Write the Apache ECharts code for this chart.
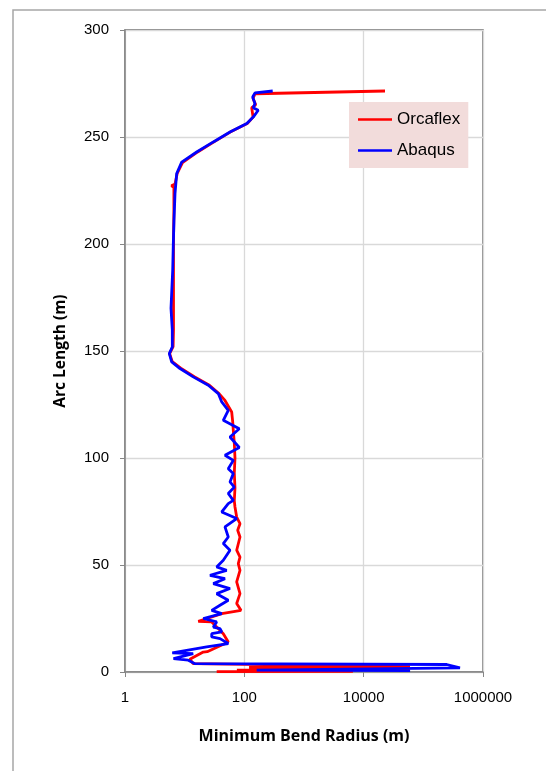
<!DOCTYPE html>
<html>
<head>
<meta charset="utf-8">
<script src="https://cdn.jsdelivr.net/npm/echarts@6/dist/echarts.min.js"></script>
<style>
html,body{margin:0;padding:0;background:#fff;}
#chart{width:546px;height:771px;}
</style>
</head>
<body>
<div id="chart"></div>
<script>
// Series names
const seriesNames = ['Orcaflex', 'Abaqus'];

// Arc length (m) and minimum bend radius (m)
const orcaflexArc = [0.2, 0.3, 0.9, 1.4, 2.2, 2.5, 3.9, 6.0, 9.3, 9.5, 14, 17.9, 19.5, 21, 23.4, 23.7, 25.7, 27.3, 28.8, 32, 36.6, 42.1, 47.5, 50.6, 53.7, 56.9, 63.1, 66.2, 69.3, 72.4, 77.1, 80, 86, 93, 100, 107, 113, 117, 121.5, 126.9, 130, 134, 138, 142, 145, 148.8, 152, 160, 180, 200, 215, 226.5, 227.2, 228, 233, 238, 243, 247.7, 252.3, 256.3, 259.3, 263.7, 265, 268, 270.2, 271.5];
const orcaflexRadius = [34.4, 6600, 75, 59700, 120, 59700, 13.9, 12.2, 20.5, 23.9, 53.8, 44.4, 39.1, 34.4, 28.4, 16.9, 28.4, 41.8, 87.9, 74.4, 84.6, 74.4, 84.6, 79.2, 84.6, 74.4, 84.6, 77.4, 84.6, 74.4, 69.7, 67.9, 69.7, 67.9, 69.7, 67.9, 65.3, 63.8, 61.4, 47.4, 38, 26, 14.5, 8.6, 6.2, 5.6, 6.4, 6.5, 6.5, 6.5, 6.6, 6.6, 6.0, 6.9, 7.5, 9.2, 16.5, 31, 58, 112, 140, 133, 155, 140, 151, 22800];

const abaqusArc = [0.7, 0.9, 1.9, 3.5, 3.9, 5.5, 6.3, 8.6, 8.9, 10.9, 11.7, 13.3, 15.6, 16.4, 17.9, 18.7, 20.3, 21, 23.4, 25, 27.3, 28.8, 31.2, 33.5, 36.6, 39, 41.3, 43.6, 45.2, 47.5, 49.1, 52.2, 53, 56.9, 60, 63.1, 67.8, 71.7, 74.8, 78.7, 80.2, 83.4, 86.4, 88.8, 92.7, 95, 98.9, 101.3, 104.9, 109.8, 113.7, 117.6, 122.3, 126.2, 130.1, 134, 137.9, 141.8, 144.9, 148.8, 151.9, 160, 170, 187.7, 200, 211, 223.5, 232.9, 238.3, 243, 247.7, 252.3, 256.3, 259.3, 262.5, 263.7, 265.6, 268.7, 270.6, 271.5];
const abaqusRadius = [60000, 161, 411000, 246000, 14.9, 11.5, 6.5, 13.9, 6.2, 15.9, 23.4, 53.8, 39.1, 28.4, 28.4, 41.8, 39.1, 30.2, 34.4, 20.5, 41.8, 28.4, 39.1, 53.8, 34.4, 57.5, 30.2, 47.4, 26.6, 50.6, 34.4, 44.4, 47.4, 57.5, 44.4, 53.8, 47.4, 74.4, 41.8, 53.8, 65.3, 53.8, 67.9, 57.5, 65.3, 53.8, 65.3, 47.4, 82.3, 57.5, 82.3, 44.4, 53.8, 41.8, 36.6, 24.9, 13.9, 8.35, 6.06, 5.53, 6.21, 6.2, 5.9, 6.3, 6.45, 6.62, 6.89, 7.35, 8.92, 15.9, 30.2, 57.5, 110, 141, 171, 141, 151, 138, 151, 299];

const yTicks = [0, 50, 100, 150, 200, 250, 300];
const xTickLabels = ['1', '100', '10000', '1000000'];

function pairs(r, a) { return r.map((v, i) => [v, a[i]]); }

const chart = echarts.init(document.getElementById('chart'), null, {renderer: 'canvas'});
chart.setOption({
  animation: false,
  backgroundColor: '#ffffff',
  graphic: [{
    type: 'rect', z: -10,
    shape: {x: 13, y: 10, width: 600, height: 800},
    style: {fill: 'none', stroke: '#a6a6a6', lineWidth: 1.5}
  }],
  grid: {
    left: 125, right: 63, top: 30, bottom: 99,
    show: true, borderColor: '#595959', borderWidth: 1.3, backgroundColor: 'transparent'
  },
  legend: {
    left: 349, top: 102, orient: 'vertical',
    backgroundColor: '#f2dcdb',
    padding: [9, 8, 9, 9],
    icon: 'rect',
    itemWidth: 34, itemHeight: 2.5, itemGap: 14,
    textStyle: {fontFamily: 'Liberation Sans', fontSize: 17, lineHeight: 17, color: '#000'},
    data: seriesNames
  },
  xAxis: {
    type: 'log', logBase: 10, min: 1, max: 1000000, interval: 2, splitNumber: 3,
    name: 'Minimum Bend Radius (m)', nameLocation: 'middle', nameGap: 56,
    nameTextStyle: {fontFamily: 'Open Sans', fontWeight: 'bold', fontSize: 16, color: '#000'},
    axisLine: {show: true, lineStyle: {color: '#868686', width: 1.5}},
    axisTick: {show: true, length: 5, lineStyle: {color: '#868686'}},
    axisLabel: {
      fontFamily: 'Liberation Sans', fontSize: 15, color: '#000', margin: 18,
      formatter: function (v) {
        const s = String(Math.round(v));
        return xTickLabels.indexOf(s) >= 0 ? s : '';
      }
    },
    splitLine: {show: true, lineStyle: {color: '#d9d9d9', width: 1.3}},
    minorTick: {show: false}
  },
  yAxis: {
    type: 'value', min: yTicks[0], max: yTicks[yTicks.length - 1], interval: 50,
    name: 'Arc Length (m)', nameLocation: 'middle', nameGap: 56,
    nameTextStyle: {fontFamily: 'Open Sans', fontWeight: 'bold', fontSize: 15.5, color: '#000'},
    axisLine: {show: true, lineStyle: {color: '#868686', width: 1.5}},
    axisTick: {show: true, length: 5, lineStyle: {color: '#868686'}},
    axisLabel: {fontFamily: 'Liberation Sans', fontSize: 15, color: '#000', margin: 16},
    splitLine: {show: true, lineStyle: {color: '#d9d9d9', width: 1.3}}
  },
  series: [
    {
      name: seriesNames[0], type: 'line', showSymbol: false, symbol: 'none',
      data: pairs(orcaflexRadius, orcaflexArc),
      lineStyle: {color: '#ff0000', width: 2.8}, itemStyle: {color: '#ff0000'}
    },
    {
      name: seriesNames[1], type: 'line', showSymbol: false, symbol: 'none',
      data: pairs(abaqusRadius, abaqusArc),
      lineStyle: {color: '#0000ff', width: 2.8}, itemStyle: {color: '#0000ff'}
    }
  ]
});
</script>
</body>
</html>
